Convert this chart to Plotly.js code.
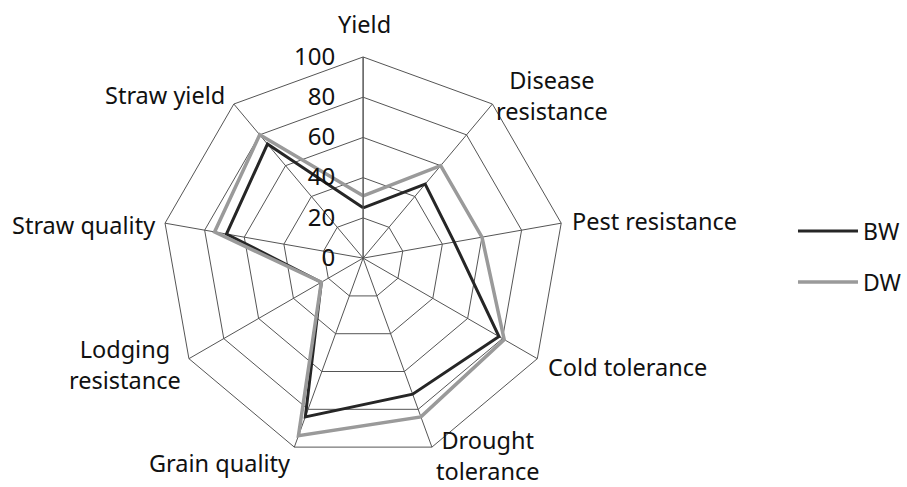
<!DOCTYPE html>
<html>
<head>
<meta charset="utf-8">
<script src="https://cdn.plot.ly/plotly-3.0.1.min.js"></script>
<style>html,body{margin:0;padding:0;background:#fff;}#chart{width:907px;height:487px;}</style>
</head>
<body>
<div id="chart"></div>
<script>
const categories = ["Yield", "Disease<br>resistance", "Pest resistance", "Cold tolerance", "Drought<br>tolerance", "Grain quality", "Lodging<br>resistance", "Straw quality", "Straw yield"];
const bwValues = [25, 48, 46, 78, 72, 84, 24, 69, 74];
const dwValues = [31, 60, 60, 81, 84, 94, 24, 75, 80];
const radialTicks = [0, 20, 40, 60, 80, 100];

const W = 907, H = 487;
// label placement in pixels: [x, y, xanchor]
const labelPlacement = [
  [371, 24, "center"],
  [563, 95, "center"],
  [581, 221, "left"],
  [556, 367, "left"],
  [497, 455, "center"],
  [224, 463, "center"],
  [127, 364, "center"],
  [85, 225, "center"],
  [168, 95, "center"]
];

function closed(arr) { return arr.concat([arr[0]]); }

const traces = [
  {type: "scatterpolar", mode: "lines", name: "BW", r: closed(bwValues), theta: closed(categories),
   line: {color: "#262626", width: 3}, legendgroup: "a"},
  {type: "scatterpolar", mode: "lines", name: "DW", r: closed(dwValues), theta: closed(categories),
   line: {color: "#9a9a9a", width: 3.5}, legendgroup: "b"}
];

const annotations = categories.map((c, i) => ({
  text: c, xref: "paper", yref: "paper", showarrow: false,
  x: labelPlacement[i][0] / W, y: 1 - labelPlacement[i][1] / H,
  xanchor: labelPlacement[i][2], yanchor: "middle", align: "center",
  font: {size: 23.5, color: "#111"}
}));

const layout = {
  width: W, height: H,
  margin: {l: 0, r: 0, t: 0, b: 0},
  paper_bgcolor: "#fff",
  font: {family: "Noto Sans, sans-serif", size: 23, color: "#111"},
  showlegend: true,
  legend: {x: 0.891, y: 0.473, xanchor: "left", yanchor: "middle", font: {size: 23},
    traceorder: "grouped", tracegroupgap: 18, itemwidth: 60},
  annotations: annotations,
  polar: {
    domain: {x: [0.182, 0.634], y: [0.049, 0.891]},
    gridshape: "linear",
    bgcolor: "#fff",
    angularaxis: {direction: "clockwise", rotation: 90, type: "category",
      showline: true, linecolor: "#555", linewidth: 1, gridcolor: "#555", gridwidth: 1,
      ticks: "", showticklabels: false},
    radialaxis: {range: [0, 100], tickvals: radialTicks, angle: 90, tickangle: 90,
      side: "counterclockwise", showline: true, linecolor: "#555", linewidth: 1,
      gridcolor: "#555", gridwidth: 1, ticks: "outside", ticklen: 19, tickcolor: "rgba(0,0,0,0)",
      tickfont: {size: 24}}
  }
};

Plotly.newPlot("chart", traces, layout, {displayModeBar: false});
</script>
</body>
</html>
